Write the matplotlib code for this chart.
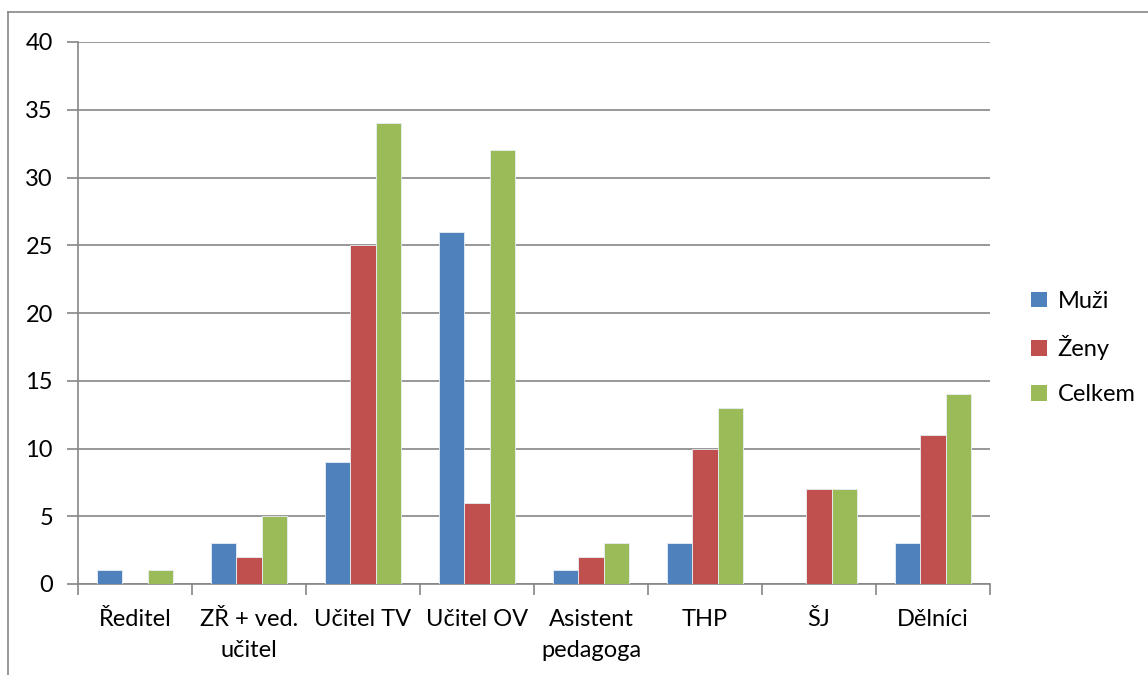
import numpy as np
import matplotlib.pyplot as plt
from matplotlib.lines import Line2D
from matplotlib.patches import Patch

categories = ['Ředitel', 'ZŘ + ved.\nučitel', 'Učitel TV', 'Učitel OV',
              'Asistent\npedagoga', 'THP', 'ŠJ', 'Dělníci']
muzi = [1, 3, 9, 26, 1, 3, 0, 3]
zeny = [0, 2, 25, 6, 2, 10, 7, 11]
celkem = [1, 5, 34, 32, 3, 13, 7, 14]
series = ['Muži', 'Ženy', 'Celkem']
colors = ['#4F81BD', '#C0504D', '#9BBB59']
yticks = [0, 5, 10, 15, 20, 25, 30, 35, 40]

plt.rcParams['font.family'] = ['Lato', 'DejaVu Sans']
FS = 17

fig = plt.figure(figsize=(11.48, 6.75), dpi=100)
W, H = 1148, 675
ax = fig.add_axes([78 / W, 1 - 584 / H, (990 - 78) / W, (584 - 42) / H])

x = np.arange(len(categories))
bw = 1 / 4.5
for i, (vals, c) in enumerate(zip([muzi, zeny, celkem], colors)):
    ax.bar(x + (i - 1) * bw, vals, bw, color=c, edgecolor='#e8eef5', linewidth=0.6,
           zorder=3, label=series[i])

ax.set_xlim(-0.5, len(categories) - 0.5)
ax.set_ylim(0, 40)
ax.set_yticks(yticks)
ax.tick_params(axis='y', length=8, width=1.2, color='#868686', labelsize=FS, pad=10)
ax.yaxis.grid(True, color='#868686', linewidth=1.2, zorder=0)
ax.set_xticks(np.arange(len(categories) + 1) - 0.5)
ax.set_xticklabels([])
ax.tick_params(axis='x', length=8, width=1.2, color='#868686')
for xi, lab in zip(x, categories):
    ax.text(xi, -1.85, lab, ha='center', va='top', fontsize=FS, linespacing=1.6)

for s in ['top', 'right']:
    ax.spines[s].set_visible(False)
for s in ['left', 'bottom']:
    ax.spines[s].set_color('#868686')
    ax.spines[s].set_linewidth(1.2)

handles = [Patch(facecolor=c, edgecolor='none') for c in colors]
fig.legend(handles, series, loc='center left', bbox_to_anchor=(1022 / W, 1 - 348 / H),
           frameon=False, fontsize=FS, handlelength=0.65, handleheight=0.65,
           handletextpad=0.45, labelspacing=1.0, borderaxespad=0)

# outer chart border (only left and top visible)
fig.add_artist(Line2D([8 / W, 8 / W], [0, 1 - 12 / H], transform=fig.transFigure,
                      color='#868686', linewidth=1.2))
fig.add_artist(Line2D([8 / W, 1], [1 - 12 / H, 1 - 12 / H], transform=fig.transFigure,
                      color='#868686', linewidth=1.2))

fig.savefig('out.png', dpi=100)
